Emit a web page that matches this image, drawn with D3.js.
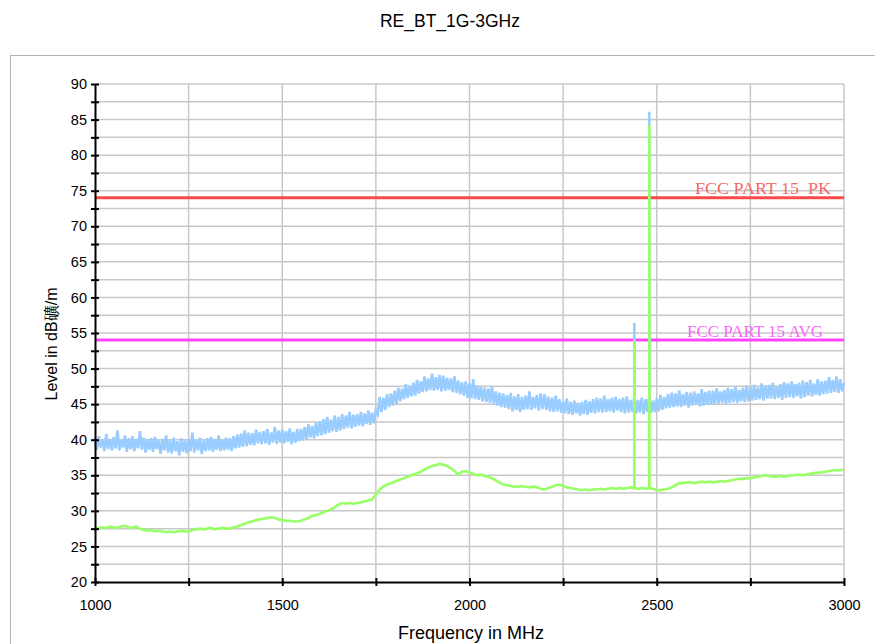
<!DOCTYPE html>
<html><head><meta charset="utf-8">
<script src="https://cdn.jsdelivr.net/npm/d3@7"></script>
<style>
body{margin:0;background:#fff;}
svg{display:block;font-family:"Liberation Sans",Arial,sans-serif;}
</style>
</head><body>
<svg id="chart" width="875" height="644"></svg>
<script>
const chartTitle = "RE_BT_1G-3GHz";
const xAxisLabel = "Frequency in MHz";
const yAxisLabel = "Level in dB礦/m";

const xTickValues = [1000, 1250, 1500, 1750, 2000, 2250, 2500, 2750, 3000];
const xTickLabels = ["1000", "", "1500", "", "2000", "", "2500", "", "3000"];
const yTickValues = [20, 22.5, 25, 27.5, 30, 32.5, 35, 37.5, 40, 42.5, 45, 47.5, 50, 52.5, 55, 57.5, 60, 62.5, 65, 67.5, 70, 72.5, 75, 77.5, 80, 82.5, 85, 87.5, 90];
const yTickLabels = ["20","","25","","30","","35","","40","","45","","50","","55","","60","","65","","70","","75","","80","","85","","90"];

const limitNames = ["FCC PART 15  PK", "FCC PART 15 AVG"];
const limitLevels = [74, 54];

// Peak trace, 1000..3000 MHz every 5 MHz
const peakFreqStart = 1000, peakFreqStep = 5;
const peakLevel = [
40.2,38.6,40.5,38.9,40.0,38.4,40.8,38.7,40.1,38.5,
40.4,38.8,41.3,38.5,40.0,38.9,40.6,38.3,40.2,38.7,
40.5,38.4,40.1,38.8,41.2,38.6,40.3,38.2,40.0,38.6,
40.2,38.3,40.4,38.7,39.9,38.0,40.1,38.5,40.6,38.2,
39.9,38.1,40.3,38.4,39.8,37.8,40.2,38.3,39.9,38.1,
40.1,38.4,41.0,38.2,40.0,38.5,40.3,38.0,39.9,38.4,
40.2,38.5,40.4,38.3,40.1,38.6,40.6,38.4,40.0,38.5,
40.3,38.6,40.2,38.4,40.5,38.8,40.7,38.9,40.9,39.0,
41.3,39.1,41.0,39.3,40.9,39.2,41.4,39.5,41.1,39.4,
41.2,39.5,41.5,39.3,41.0,39.6,41.8,39.4,41.3,39.6,
41.4,39.5,41.2,39.7,41.6,39.4,41.1,39.6,41.5,39.8,
41.5,39.9,41.8,40.0,42.2,40.3,41.9,40.2,42.4,40.5,
42.6,40.6,42.9,40.8,43.2,41.0,42.8,41.2,43.4,41.1,
43.2,41.3,43.6,41.5,43.4,41.7,43.9,41.6,43.5,41.8,
43.6,42.0,43.9,41.9,43.7,42.2,44.1,42.1,43.8,42.3,
44.2,43.6,46.0,43.9,45.9,44.2,46.4,44.6,46.5,44.8,
46.9,45.0,47.3,45.4,47.2,45.7,47.8,45.9,47.6,46.1,
48.0,46.2,48.4,46.5,48.2,46.7,48.9,46.8,48.6,47.0,
49.3,46.9,48.8,47.0,49.1,46.8,49.0,46.9,48.7,47.0,
48.6,46.7,48.9,46.6,48.3,46.4,48.1,46.2,48.2,45.9,
47.9,45.8,48.5,45.7,47.6,45.6,47.5,45.4,47.3,45.3,
47.2,45.2,47.5,45.0,46.8,44.8,46.6,44.6,46.5,44.5,
46.3,44.3,46.6,44.0,46.1,44.2,46.4,43.9,46.0,44.2,
46.2,44.3,46.8,44.2,46.0,44.4,46.3,44.1,46.5,44.3,
46.4,44.2,46.1,44.0,45.9,43.9,46.2,44.0,45.7,43.8,
45.4,43.7,45.8,43.6,45.3,43.5,45.5,43.7,45.2,43.4,
45.3,43.6,45.6,43.5,45.4,43.8,45.7,43.7,45.9,43.9,
45.8,43.8,46.2,43.9,45.7,44.0,45.9,43.8,46.0,44.1,
45.7,43.9,45.9,43.7,46.1,43.8,45.6,43.9,45.8,43.7,
45.6,43.8,45.9,43.6,45.7,43.9,46.0,43.8,45.5,43.9,
45.8,44.0,46.3,44.2,46.0,44.4,46.4,44.5,46.6,44.6,
46.5,44.7,46.9,44.6,46.4,44.8,46.7,44.5,46.6,44.8,
46.8,44.9,46.5,44.7,47.1,44.8,46.7,45.0,46.9,44.9,
46.9,45.0,47.2,45.1,46.8,45.2,47.0,45.0,47.3,45.2,
47.1,45.3,47.5,45.2,47.0,45.4,47.3,45.3,47.6,45.4,
47.4,45.5,47.7,45.6,47.3,45.7,47.9,45.5,47.6,45.8,
47.7,45.8,48.0,45.7,47.5,45.9,47.8,45.6,48.1,45.9,
47.9,46.0,48.2,45.9,47.8,46.1,48.0,45.8,48.3,46.0,
48.1,46.2,48.4,46.1,47.9,46.3,48.5,46.2,48.2,46.4,
48.3,46.5,48.8,46.6,48.4,46.7,48.9,46.6,48.5,46.8,
48.0
];

// Average trace, 1000..3000 MHz every 10 MHz
const avgFreqStart = 1000, avgFreqStep = 10;
const avgLevel = [
27.5,27.6,27.7,27.6,27.8,27.7,27.6,27.8,27.9,27.7,
27.6,27.8,27.5,27.3,27.2,27.3,27.1,27.2,27.1,27.0,
27.1,27.0,27.1,27.2,27.1,27.1,27.3,27.4,27.5,27.4,
27.5,27.6,27.4,27.5,27.6,27.5,27.5,27.7,27.8,28.0,
28.2,28.4,28.5,28.7,28.8,28.9,29.0,29.1,29.0,28.8,
28.7,28.6,28.6,28.5,28.5,28.6,28.8,29.0,29.3,29.4,
29.6,29.8,30.0,30.2,30.5,30.9,31.1,31.0,31.1,31.0,
31.1,31.2,31.3,31.5,31.6,32.3,33.0,33.4,33.7,33.9,
34.1,34.3,34.5,34.7,34.9,35.1,35.3,35.5,35.8,36.1,
36.3,36.4,36.6,36.5,36.3,36.0,35.6,35.1,35.5,35.6,
35.4,35.2,35.0,35.1,34.9,34.8,34.6,34.3,34.0,33.7,
33.6,33.5,33.4,33.4,33.5,33.4,33.3,33.4,33.3,33.1,
33.0,33.2,33.4,33.6,33.7,33.5,33.3,33.2,33.1,33.0,
32.9,33.0,32.9,33.0,33.0,33.1,33.0,33.1,33.2,33.1,
33.2,33.1,33.2,33.3,33.2,33.1,33.2,33.1,33.2,33.1,
32.9,32.9,33.0,33.1,33.3,33.6,33.9,33.9,34.0,34.0,
33.9,34.0,34.1,34.0,34.1,34.0,34.1,34.2,34.1,34.2,
34.3,34.4,34.5,34.5,34.6,34.6,34.7,34.8,34.9,35.0,
34.9,34.8,34.8,34.9,34.8,34.9,35.0,35.0,35.1,35.0,
35.1,35.2,35.3,35.4,35.4,35.5,35.6,35.7,35.7,35.7,
35.8
];

// Narrow emissions (carrier spikes)
const spikeFreq = [2440, 2480];
const spikePeak = [56.4, 86.1];
const spikeAvg = [54.0, 84.2];

// ---------------------------------------------------------------
const svg = d3.select("#chart");
const x = d3.scaleLinear().domain([1000, 3000]).range([95, 844]);
const y = d3.scaleLinear().domain([20, 90]).range([582, 84]);

function buildSeries(start, step, vals, sF, sV) {
  const pts = vals.map((v, i) => [start + i * step, v]);
  sF.forEach((f, k) => {
    let idx = 0, best = Infinity;
    pts.forEach((p, i) => { const d = Math.abs(p[0] - f); if (d < best) { best = d; idx = i; } });
    const base = pts[idx][1];
    pts.push([f - 0.6, base], [f, sV[k]], [f + 0.6, base]);
  });
  pts.sort((a, b) => a[0] - b[0]);
  return pts;
}
const peakPts = buildSeries(peakFreqStart, peakFreqStep, peakLevel, spikeFreq, spikePeak);
const avgPts = buildSeries(avgFreqStart, avgFreqStep, avgLevel, spikeFreq, spikeAvg);

// panel border
svg.append("rect").attr("x", 10.5).attr("y", 55.5).attr("width", 880).attr("height", 620)
  .attr("fill", "none").attr("stroke", "#b4b4b4").attr("stroke-width", 1);

// title
svg.append("text").attr("x", 450).attr("y", 27).attr("text-anchor", "middle")
  .attr("font-size", 17.5).attr("fill", "#000").text(chartTitle);

// grid
const grid = svg.append("g").attr("stroke", "#c8c8c8").attr("stroke-width", 1.5);
grid.selectAll("line.h").data(yTickValues.filter(v => v > 20)).join("line")
  .attr("x1", x(1000)).attr("x2", x(3000)).attr("y1", d => y(d)).attr("y2", d => y(d));
grid.selectAll("line.v").data(xTickValues.filter(v => v > 1000)).join("line")
  .attr("y1", y(20)).attr("y2", y(90)).attr("x1", d => x(d)).attr("x2", d => x(d));

// limit lines
const limitColors = ["#ff4a4a", "#ff44ff"];
const limitTextColors = ["#f36a6a", "#f66af6"];
limitLevels.forEach((lv, i) => {
  svg.append("line").attr("x1", x(1000)).attr("x2", x(3000))
    .attr("y1", y(lv)).attr("y2", y(lv))
    .attr("stroke", limitColors[i]).attr("stroke-width", 3);
});

// traces
const traceLine = d3.line().x(d => x(d[0])).y(d => y(d[1]));
svg.append("path").datum(peakPts).attr("d", traceLine)
  .attr("fill", "none").attr("stroke", "#99ccff").attr("stroke-width", 2.6);
svg.append("path").datum(avgPts).attr("d", traceLine)
  .attr("fill", "none").attr("stroke", "#99ff66").attr("stroke-width", 2.6);

// limit labels
const labelX = [695, 687];
limitLevels.forEach((lv, i) => {
  svg.append("text").attr("x", labelX[i]).attr("y", y(lv) - 3.5)
    .attr("font-family", "'Liberation Serif','DejaVu Serif',serif")
    .attr("font-size", 17.5).attr("fill", limitTextColors[i])
    .attr("textLength", 136).attr("lengthAdjust", "spacingAndGlyphs")
    .style("white-space", "pre")
    .text(limitNames[i]);
});

// axes
const yAxis = d3.axisLeft(y).tickValues(yTickValues)
  .tickFormat((d, i) => yTickLabels[i]).tickSize(4).tickSizeOuter(0).tickPadding(4);
const gy = svg.append("g").attr("transform", `translate(${x(1000)},0)`).call(yAxis);
gy.selectAll(".tick line").attr("x1", 4).attr("x2", -4).attr("stroke", "#000").attr("stroke-width", 2);
gy.select(".domain").attr("stroke", "#000").attr("stroke-width", 2);
gy.selectAll(".tick text").attr("font-size", 14.5).attr("font-family", "'Liberation Sans',Arial,sans-serif").attr("fill", "#000");

const xAxis = d3.axisBottom(x).tickValues(xTickValues)
  .tickFormat((d, i) => xTickLabels[i]).tickSize(4).tickSizeOuter(0).tickPadding(13.5);
const gx = svg.append("g").attr("transform", `translate(0,${y(20)})`).call(xAxis);
gx.selectAll(".tick line").attr("y1", -4).attr("y2", 4).attr("stroke", "#000").attr("stroke-width", 2);
gx.select(".domain").attr("stroke", "#000").attr("stroke-width", 2);
gx.selectAll(".tick text").attr("font-size", 14.5).attr("font-family", "'Liberation Sans',Arial,sans-serif").attr("fill", "#000");

// axis titles
svg.append("text").attr("x", 471).attr("y", 639).attr("text-anchor", "middle")
  .attr("font-size", 18).attr("fill", "#000").text(xAxisLabel);
svg.append("text").attr("transform", "translate(57,344) rotate(-90)")
  .attr("text-anchor", "middle").attr("font-size", 16).attr("fill", "#000").text(yAxisLabel);
</script>
</body></html>
